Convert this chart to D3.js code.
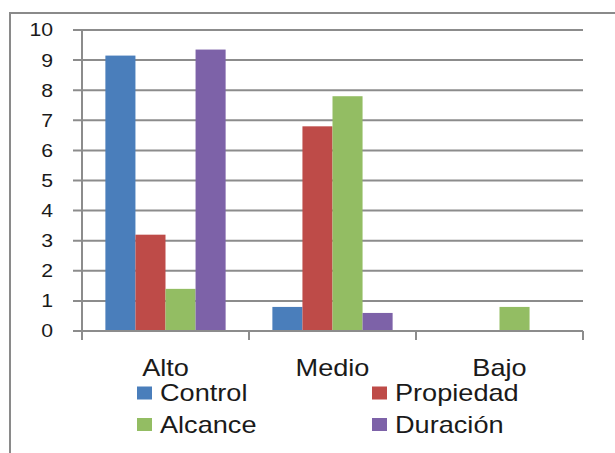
<!DOCTYPE html>
<html>
<head>
<meta charset="utf-8">
<script src="https://cdn.jsdelivr.net/npm/d3@7"></script>
<style>
  body { margin: 0; background: #fff; }
  text { font-family: "Liberation Sans", Arial, sans-serif; fill: #1a1a1a; }
</style>
</head>
<body>
<div id="chart"></div>
<script>
// Chart data
const categories = ["Alto", "Medio", "Bajo"];
const seriesNames = ["Control", "Propiedad", "Alcance", "Duración"];
const control = [9.15, 0.8, 0];
const propiedad = [3.2, 6.8, 0];
const alcance = [1.4, 7.8, 0.8];
const duracion = [9.35, 0.6, 0];
const yTicks = [0, 1, 2, 3, 4, 5, 6, 7, 8, 9, 10];
const colors = ["#4a7ebb", "#be4b48", "#93bd63", "#7d62a8"];

const seriesValues = [control, propiedad, alcance, duracion];

const W = 615, H = 453;
const margin = { top: 30, right: 32, bottom: 122, left: 82 },
    width = W - margin.left - margin.right,
    height = H - margin.top - margin.bottom;

// the reference text is a bit wider than plain Arial
const stretch = 1.18;

const svg = d3.select("#chart").append("svg")
    .attr("width", W)
    .attr("height", H);

// outer frame (top + left visible)
svg.append("path")
    .attr("d", "M10," + H + " L10,13 L" + W + ",13")
    .attr("fill", "none")
    .attr("stroke", "#8a8a8a")
    .attr("stroke-width", 2);

const g = svg.append("g")
    .attr("transform", "translate(" + margin.left + "," + margin.top + ")");

const x0 = d3.scaleBand()
    .domain(categories)
    .range([0, width])
    .paddingInner(0.28)
    .paddingOuter(0.14);

const x1 = d3.scaleBand()
    .domain(seriesNames)
    .range([0, x0.bandwidth()]);

const y = d3.scaleLinear()
    .domain([0, 10])
    .range([height, 0]);

// gridlines
g.selectAll(".grid")
    .data(yTicks)
    .enter().append("line")
    .attr("x1", -9)
    .attr("x2", width)
    .attr("y1", d => y(d))
    .attr("y2", d => y(d))
    .attr("stroke", "#8c8c8c")
    .attr("stroke-width", 2);

// y axis line
g.append("line")
    .attr("x1", 0).attr("x2", 0)
    .attr("y1", 0).attr("y2", height + 9)
    .attr("stroke", "#8c8c8c")
    .attr("stroke-width", 2);

// y labels
g.selectAll(".ylab")
    .data(yTicks)
    .enter().append("text")
    .attr("transform", d => "translate(-29," + y(d) + ") scale(" + stretch + ",1)")
    .attr("dy", "0.36em")
    .attr("text-anchor", "end")
    .style("font-size", "18px")
    .text(d => d);

// bars
const groups = g.selectAll(".cat")
    .data(categories)
    .enter().append("g")
    .attr("transform", d => "translate(" + x0(d) + ",0)");

groups.selectAll("rect")
    .data((c, i) => seriesNames.map((s, j) => ({ s: s, v: seriesValues[j][i], j: j })))
    .enter().append("rect")
    .attr("x", d => x1(d.s))
    .attr("y", d => y(d.v))
    .attr("width", x1.bandwidth())
    .attr("height", d => height - y(d.v))
    .attr("fill", d => colors[d.j]);

// x axis line and ticks
g.append("line")
    .attr("x1", -9).attr("x2", width)
    .attr("y1", height).attr("y2", height)
    .attr("stroke", "#8c8c8c")
    .attr("stroke-width", 2);

const step = width / categories.length;
g.selectAll(".xtick")
    .data(d3.range(categories.length + 1))
    .enter().append("line")
    .attr("x1", d => d * step).attr("x2", d => d * step)
    .attr("y1", height).attr("y2", height + 9)
    .attr("stroke", "#8c8c8c")
    .attr("stroke-width", 2);

// category labels
g.selectAll(".xlab")
    .data(categories)
    .enter().append("text")
    .attr("transform", d => "translate(" + (x0(d) + x0.bandwidth() / 2) + "," + (height + 45) + ") scale(" + stretch + ",1)")
    .attr("text-anchor", "middle")
    .style("font-size", "23px")
    .text(d => d);

// legend
const legend = svg.selectAll(".legend")
    .data(seriesNames)
    .enter().append("g")
    .attr("transform", (d, i) => "translate(" + (137 + (i % 2) * 235) + "," + (393 + Math.floor(i / 2) * 31.5) + ")");

legend.append("rect")
    .attr("x", 0)
    .attr("y", -6.5)
    .attr("width", 15)
    .attr("height", 13)
    .attr("fill", (d, i) => colors[i]);

legend.append("text")
    .attr("transform", "translate(23,8) scale(" + stretch + ",1)")
    .style("font-size", "23px")
    .text(d => d);
</script>
</body>
</html>
